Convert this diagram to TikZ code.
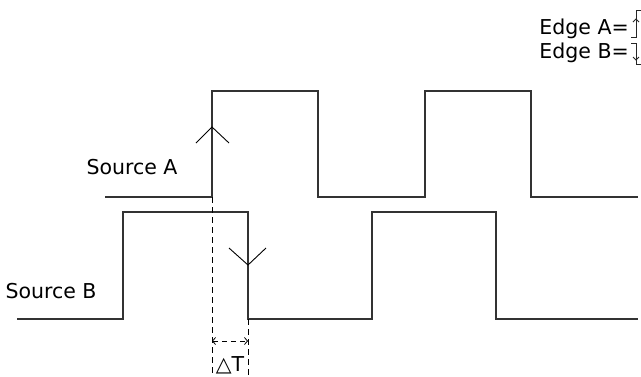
\documentclass[tikz,border=0pt]{standalone}
\usepackage{fontspec}
\setmainfont{DejaVu Sans}
\usetikzlibrary{positioning,arrows.meta}
\tikzset{
  wave/.style     = {draw=black!80, line width=1.1pt},
  edgemark/.style = {draw=black, line width=0.9pt},
  glyph/.style    = {draw=black!85, line width=0.8pt},
  txt/.style      = {font=\fontsize{20.5}{24}\selectfont, inner sep=0pt},
  guide/.style    = {draw=black, line width=0.8pt, dash pattern=on 6pt off 4pt}
}

\begin{document}
\begin{tikzpicture}[
		x=1pt, y=-1pt,
		>={Straight Barb[length=3pt,width=7pt]}
	]
		\useasboundingbox (0,0) rectangle (641,376);
		% the two signals
		\draw[wave] (105,197) -- (212,197) -- (212,91) -- (318,91) -- (318,197)
			-- (425,197) -- (425,91) -- (531,91) -- (531,197) -- (638,197);
		\draw[wave] (17,319) -- (123,319) -- (123,212) -- (248,212) -- (248,319)
			-- (372,319) -- (372,212) -- (496,212) -- (496,319) -- (638,319);
		% edge marks
		\draw[edgemark] (196,143) -- (212,127) -- (229,143);
		\draw[edgemark] (229,248) -- (248,265) -- (266,248);
		% labels
		\node[txt, anchor=base] (srcA) at (132,174) {Source A};
		\node[txt, anchor=base] (srcB) at (51,298) {Source B};
		\node[txt, anchor=base east] (edgeA) at (629,34) {Edge A=};
		\node[txt, anchor=base east] (edgeB) at (629,58) {Edge B=};
		\node[txt, anchor=base] (delta) at (230,371) {△T};
		% small edge symbols
		\draw[glyph] (631,37) -- (636,37) -- (636,10) -- (645,10);
		\draw[glyph] (633,22) -- (636,19) -- (639,22);
		\draw[glyph] (631,43) -- (636,43) -- (636,64) -- (645,64);
		\draw[glyph] (633,57) -- (636,60) -- (639,57);
		% delay between the edges
		\coordinate (riseA) at (212,197);
		\coordinate (fallB) at (248,319);
		\coordinate (riseEnd) at (212,380);
		\coordinate (fallEnd) at (248,380);
		\coordinate (gapL) at (212,341);
		\coordinate (gapR) at (248,341);
		\draw[guide] (riseA) -- (riseEnd);
		\draw[guide] (fallB) -- (fallEnd);
		\draw[guide, dash pattern=on 5pt off 4pt, <->] (gapL) -- (gapR);
	\end{tikzpicture}
\end{document}
